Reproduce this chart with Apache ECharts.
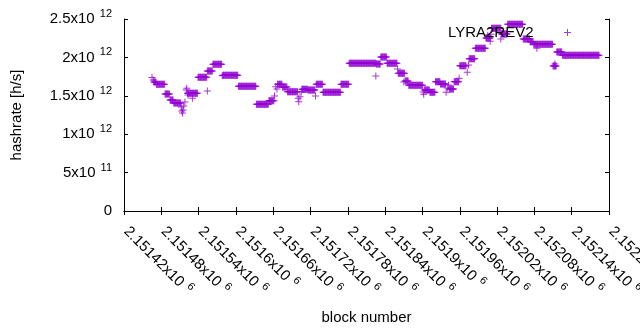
<!DOCTYPE html>
<html>
<head>
<meta charset="UTF-8">
<script src="https://cdn.jsdelivr.net/npm/echarts@6/dist/echarts.min.js"></script>
<style>
html, body { margin: 0; padding: 0; background: #ffffff; }
#chart { width: 640px; height: 330px; }
</style>
</head>
<body>
<div id="chart"></div>
<script>
var seriesName = 'LYRA2REV2';

// stretches of consecutive blocks with the same hashrate (first block, last block, h/s)
var runStart = [2151468, 2151472, 2151486, 2151494, 2151500, 2151522, 2151539, 2151554, 2151563, 2151579,
                2151604, 2151633, 2151653, 2151667, 2151675, 2151683, 2151706, 2151716, 2151729, 2151740,
                2151769, 2151782, 2151826, 2151833, 2151843, 2151861, 2151872, 2151878, 2151903, 2151912,
                2151921, 2151929, 2151943, 2151951, 2151960, 2151975, 2151985, 2152002, 2152011, 2152027,
                2152037, 2152062, 2152073, 2152079, 2152110, 2152116, 2152125];
var runEnd   = [2151471, 2151485, 2151493, 2151499, 2151511, 2151538, 2151553, 2151562, 2151577, 2151603,
                2151632, 2151652, 2151661, 2151674, 2151682, 2151699, 2151715, 2151727, 2151739, 2151768,
                2151781, 2151825, 2151832, 2151842, 2151859, 2151871, 2151877, 2151900, 2151911, 2151920,
                2151928, 2151937, 2151950, 2151958, 2151970, 2151984, 2152001, 2152009, 2152026, 2152036,
                2152061, 2152072, 2152078, 2152109, 2152115, 2152124, 2152184];
var runRate  = [1.68e12, 1.65e12, 1.523e12, 1.445e12, 1.406e12, 1.533e12, 1.741e12, 1.823e12, 1.910e12, 1.767e12,
                1.624e12, 1.389e12, 1.436e12, 1.650e12, 1.615e12, 1.553e12, 1.585e12, 1.576e12, 1.650e12, 1.546e12,
                1.650e12, 1.923e12, 1.914e12, 2.005e12, 1.923e12, 1.793e12, 1.693e12, 1.637e12, 1.576e12, 1.546e12,
                1.684e12, 1.654e12, 1.589e12, 1.684e12, 1.892e12, 1.983e12, 2.118e12, 2.253e12, 2.379e12, 2.305e12,
                2.432e12, 2.240e12, 2.204e12, 2.171e12, 1.888e12, 2.070e12, 2.027e12];

// single blocks outside the stretches
var dotBlock = [2151465, 2151467, 2151512, 2151513, 2151514, 2151515, 2151516, 2151518, 2151520, 2151521,
                2151523, 2151530, 2151554, 2151578, 2151662, 2151664, 2151666, 2151700, 2151701, 2151703,
                2151705, 2151728, 2151825, 2151860, 2151870, 2151901, 2151902, 2151938, 2151940, 2151942,
                2151959, 2151972, 2151974, 2152005, 2152009, 2152010, 2152026, 2152084, 2152113];
var dotRate  = [1.738e12, 1.706e12, 1.354e12, 1.302e12, 1.276e12, 1.315e12, 1.367e12, 1.419e12, 1.576e12, 1.598e12,
                1.510e12, 1.467e12, 1.5625e12, 1.76e12, 1.497e12, 1.618e12, 1.589e12, 1.467e12, 1.423e12, 1.488e12,
                1.55e12, 1.497e12, 1.758e12, 1.85e12, 1.68e12, 1.55e12, 1.52e12, 1.546e12, 1.60e12, 1.64e12,
                1.728e12, 1.806e12, 1.90e12, 2.29e12, 2.21e12, 2.30e12, 2.24e12, 2.118e12, 1.914e12];

// tick labels
var xMin = 2151420, xMax = 2152200, xStep = 60;
var xTickBase = ['2.15142x10', '2.15148x10', '2.15154x10', '2.1516x10', '2.15166x10', '2.15172x10', '2.15178x10',
                 '2.15184x10', '2.1519x10', '2.15196x10', '2.15202x10', '2.15208x10', '2.15214x10', '2.1522x10'];
var xTickExp = '6';
var yMax = 2.5e12, yStep = 5e11;
var yTickBase = ['0', '5x10', '1x10', '1.5x10', '2x10', '2.5x10'];
var yTickExp  = ['', '11', '12', '12', '12', '12'];

var plus = 'path://M3,0h1v7h-1zM0,3h7v1h-7z';
var violet = '#9400d3';

var points = [];
for (var i = 0; i < runStart.length; i++) {
    for (var b = runStart[i]; b <= runEnd[i]; b++) {
        points.push([b, runRate[i]]);
    }
}
for (var j = 0; j < dotBlock.length; j++) {
    points.push([dotBlock[j], dotRate[j]]);
}

var tickRich = {
    b: { fontSize: 15, color: '#000', lineHeight: 21 },
    s: { fontSize: 11, color: '#000', lineHeight: 12, verticalAlign: 'top', padding: [0, 0, 0, 2] }
};

function frame(pos) {
    return {
        type: 'value', position: pos, min: xMin, max: xMax, interval: xStep,
        axisLine: { lineStyle: { color: '#000', width: 1 } },
        axisTick: { inside: true, length: 4, lineStyle: { color: '#000' } },
        splitLine: { show: false },
        axisLabel: { show: false }
    };
}

var xBottom = frame('bottom');
xBottom.axisLabel = {
    show: true, rotate: -45, margin: 16, padding: [0, 0, 0, 3],
    formatter: function (v) {
        var k = Math.round((v - xMin) / xStep);
        return '{b|' + xTickBase[k] + '}{s| ' + xTickExp + '}';
    },
    rich: tickRich
};
xBottom.name = 'block number';
xBottom.nameLocation = 'middle';
xBottom.nameGap = 99;
xBottom.nameTextStyle = { fontSize: 15, color: '#000' };

function yframe(pos) {
    return {
        type: 'value', position: pos, min: 0, max: yMax, interval: yStep,
        axisLine: { show: true, lineStyle: { color: '#000', width: 1 } },
        axisTick: { show: true, inside: true, length: 4, lineStyle: { color: '#000' } },
        splitLine: { show: false },
        axisLabel: { show: false }
    };
}

var yLeft = yframe('left');
yLeft.axisLabel = {
    show: true, margin: 12,
    formatter: function (v) {
        var k = Math.round(v / yStep);
        if (!yTickExp[k]) return '{b|' + yTickBase[k] + '}';
        return '{b|' + yTickBase[k] + '}{s| ' + yTickExp[k] + '}';
    },
    rich: tickRich
};
yLeft.name = 'hashrate [h/s]';
yLeft.nameLocation = 'middle';
yLeft.nameGap = 100;
yLeft.nameTextStyle = { fontSize: 15, color: '#000' };

var chart = echarts.init(document.getElementById('chart'));
chart.setOption({
    animation: false,
    backgroundColor: '#ffffff',
    textStyle: { fontFamily: 'Liberation Sans, Arial, sans-serif' },
    grid: { left: 124, right: 31, top: 19, bottom: 119, outerBoundsMode: 'none' },
    legend: {
        data: [seriesName],
        right: 69, top: 25, padding: 0,
        align: 'right',
        icon: plus,
        itemWidth: 58, itemHeight: 7,
        textStyle: { fontSize: 15, color: '#000' }
    },
    xAxis: [xBottom, frame('top')],
    yAxis: [yLeft, yframe('right')],
    series: [{
        name: seriesName,
        type: 'scatter',
        symbol: plus,
        symbolSize: 7,
        itemStyle: { color: violet },
        data: points
    }]
});
</script>
</body>
</html>
